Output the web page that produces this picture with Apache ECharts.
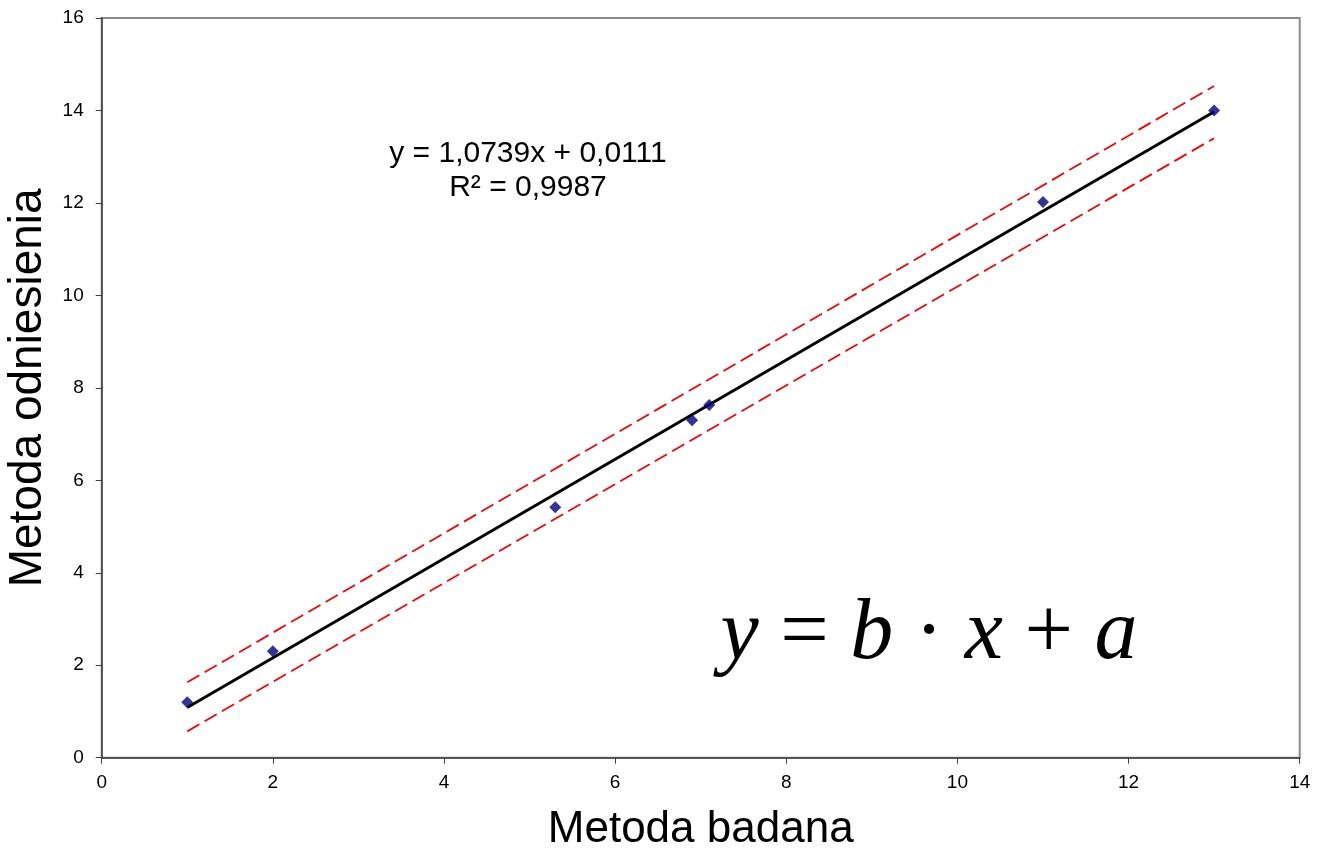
<!DOCTYPE html>
<html>
<head>
<meta charset="utf-8">
<script src="https://cdn.jsdelivr.net/npm/echarts@6/dist/echarts.min.js"></script>
<style>html,body{margin:0;padding:0;background:#fff}#c{width:1317px;height:854px}</style>
</head>
<body>
<div id="c"></div>
<script>
const pointsX = [1, 2, 5.3, 6.9, 7.1, 11, 13];
const pointsY = [1.2, 2.3, 5.42, 7.3, 7.63, 12.02, 14.0];
const fitX = [1, 13];
const fitY = [1.085, 13.972];
const upperY = [1.63, 14.53];
const lowerY = [0.57, 13.40];
const xName = 'Metoda badana';
const yName = 'Metoda odniesienia';
const eqText = 'y = 1,0739x + 0,0111';
const r2Text = 'R² = 0,9987';

const zip = (xs, ys) => xs.map((x, i) => [x, ys[i]]);
const chart = echarts.init(document.getElementById('c'));
const font = 'Liberation Sans, Arial, sans-serif';
chart.setOption({
  animation: false,
  grid: { left: 101.7, top: 18, right: 17.3, bottom: 96.3, show: true, borderColor: '#8c8c8c', borderWidth: 2, containLabel: false, outerBoundsMode: 'none' },
  xAxis: {
    type: 'value', min: 0, max: 14, interval: 2,
    name: xName, nameLocation: 'middle', nameGap: 50,
    nameTextStyle: { fontFamily: font, fontSize: 44, color: '#000' },
    axisLine: { show: true, lineStyle: { color: '#404040', width: 1.5 } },
    axisTick: { show: true, length: 6, lineStyle: { color: '#404040' } },
    axisLabel: { fontFamily: font, fontSize: 19, color: '#000', margin: 16 },
    splitLine: { show: false }
  },
  yAxis: {
    type: 'value', min: 0, max: 16, interval: 2,
    name: yName, nameLocation: 'middle', nameGap: 46,
    nameTextStyle: { fontFamily: font, fontSize: 46, color: '#000' },
    axisLine: { show: true, lineStyle: { color: '#404040', width: 1.5 } },
    axisTick: { show: true, length: 6, lineStyle: { color: '#404040' } },
    axisLabel: { fontFamily: font, fontSize: 19, color: '#000', margin: 18 },
    splitLine: { show: false }
  },
  series: [
    { type: 'line', data: zip(fitX, upperY), symbol: 'none', lineStyle: { color: '#ff0000', width: 1.8, type: [14, 6] }, z: 2 },
    { type: 'line', data: zip(fitX, lowerY), symbol: 'none', lineStyle: { color: '#ff0000', width: 1.8, type: [14, 6] }, z: 2 },
    { type: 'line', data: zip(fitX, fitY), symbol: 'none', lineStyle: { color: '#000', width: 3 }, z: 3 },
    { type: 'scatter', data: zip(pointsX, pointsY), symbol: 'diamond', symbolSize: [12, 12], itemStyle: { color: '#000080' }, z: 4 }
  ],
  graphic: [
    { type: 'text', x: 528, y: 171, style: { text: eqText + '\n' + r2Text, fontFamily: font, fontSize: 30, fill: '#000', align: 'center', verticalAlign: 'middle', lineHeight: 34 } },
    { type: 'text', x: 929, y: 635, style: {
        text: '{i|y}{n| = }{i|b}{n| · }{i|x}{n| + }{i|a}',
        align: 'center', verticalAlign: 'middle',
        rich: {
          i: { fontFamily: 'Liberation Serif, Times New Roman, serif', fontStyle: 'italic', fontSize: 86, fill: '#000' },
          n: { fontFamily: 'Liberation Serif, Times New Roman, serif', fontSize: 86, fill: '#000' }
        }
    } }
  ]
});
</script>
</body>
</html>
